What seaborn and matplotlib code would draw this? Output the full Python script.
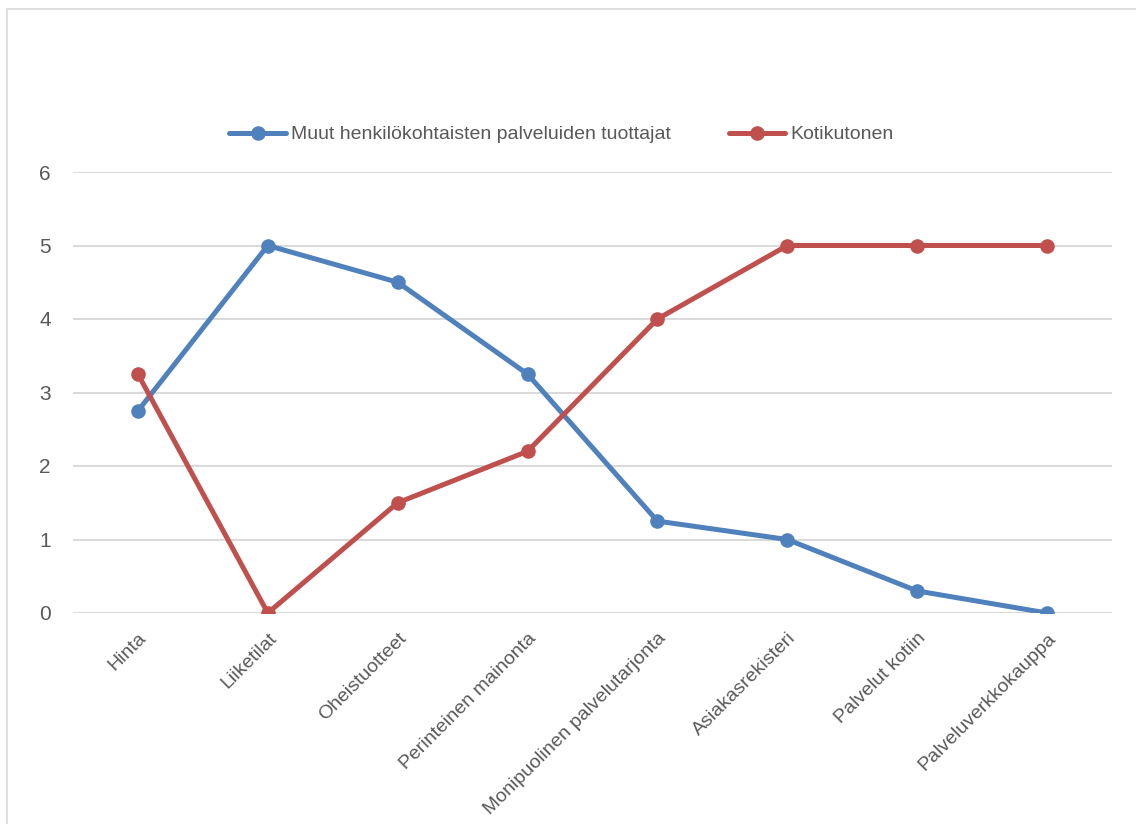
import pandas as pd
import matplotlib.pyplot as plt
import matplotlib.patches as mpatches
import seaborn as sns

# Data
categories = ['Hinta', 'Liiketilat', 'Oheistuotteet', 'Perinteinen mainonta',
              'Monipuolinen palvelutarjonta', 'Asiakasrekisteri', 'Palvelut kotiin',
              'Palveluverkkokauppa']
muut_values = [2.75, 5, 4.5, 3.25, 1.25, 1, 0.3, 0]
koti_values = [3.25, 0, 1.5, 2.2, 4, 5, 5, 5]
series_names = ['Muut henkilökohtaisten palveluiden tuottajat', 'Kotikutonen']
y_ticks = [0, 1, 2, 3, 4, 5, 6]

df = pd.DataFrame({
    'Tekijä': categories * 2,
    'Arvo': muut_values + koti_values,
    'Sarja': [series_names[0]] * len(categories) + [series_names[1]] * len(categories),
})

sns.set_theme(style="white")
plt.rcParams['font.family'] = ['Liberation Sans', 'DejaVu Sans']
text_color = '#595959'

fig = plt.figure(figsize=(11.36, 8.24), dpi=100)
ax = fig.add_axes([73 / 1136, 1 - 613 / 824, (1112 - 73) / 1136, (613 - 172) / 824])

# chart frame (cropped on right and bottom)
fig.patches.append(mpatches.Rectangle((7 / 1136, -0.1), 1.2, 1 - 9 / 824 + 0.1,
                                      transform=fig.transFigure, fill=False,
                                      edgecolor='#D9D9D9', linewidth=1.2))

palette = {series_names[0]: '#4F81BD', series_names[1]: '#C0504D'}
sns.lineplot(data=df, x='Tekijä', y='Arvo', hue='Sarja', palette=palette,
             sort=False, marker='o', markersize=10.5, markeredgewidth=0,
             linewidth=3.6, ax=ax)

ax.set_xlim(-0.5, len(categories) - 0.5)
ax.set_ylim(0, 6)
ax.set_yticks(y_ticks)
ax.set_yticklabels([str(t) for t in y_ticks], fontsize=15, color=text_color)
ax.set_xticks(range(len(categories)))
ax.set_xticklabels(categories, rotation=45, ha='right', rotation_mode='anchor',
                   fontsize=14, color=text_color)
ax.tick_params(axis='x', length=0, pad=12)
ax.tick_params(axis='y', length=0, pad=16)
ax.set_xlabel('')
ax.set_ylabel('')
ax.grid(axis='y', color='#D9D9D9', linewidth=1.4)
ax.set_axisbelow(True)
for s in ax.spines.values():
    s.set_visible(False)

handles, labels = ax.get_legend_handles_labels()
ax.legend(handles, labels, loc='center', bbox_to_anchor=(0.47, 1.085), ncol=2,
          frameon=False, fontsize=14, labelcolor=text_color, handlelength=2.9,
          handletextpad=0.25, columnspacing=3.0)

fig.savefig('out.png', dpi=100)
